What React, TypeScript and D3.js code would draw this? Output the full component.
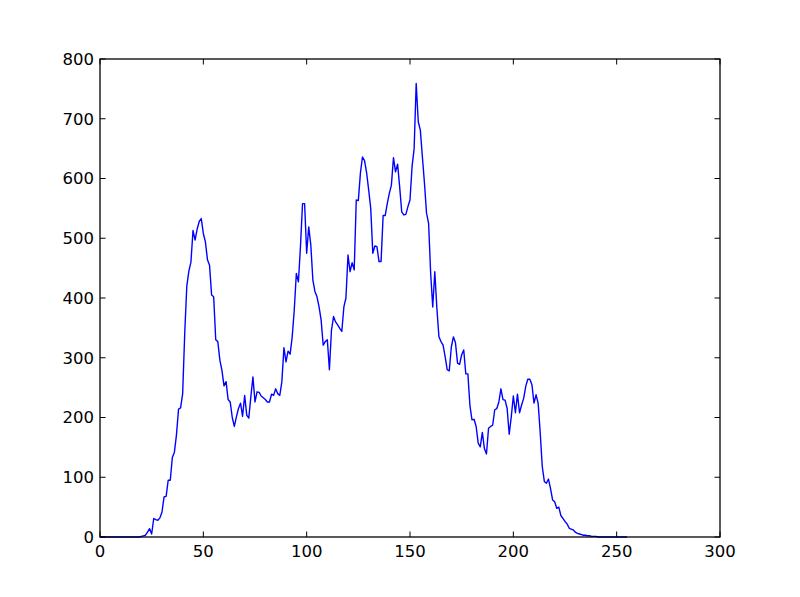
import React from "react";
import * as d3 from "d3";

const counts: number[] = [
  // 0-19
  0, 0, 0, 0, 0, 0, 0, 0, 0, 0, 0, 0, 0, 0, 0, 0, 0, 0, 0, 0,
  // 20-39
  1, 2, 3, 8, 14, 5, 31, 29, 28, 32, 42, 67, 68, 95, 95, 133, 142, 171, 214, 216,
  // 40-59
  240, 341, 420, 445, 460, 513, 497, 515, 528, 533, 508, 494, 464, 455, 405, 402, 330, 327, 296, 279,
  // 60-79
  253, 260, 230, 226, 200, 185, 201, 215, 224, 202, 237, 204, 199, 235, 268, 226, 243, 242, 236, 233,
  // 80-99
  230, 226, 226, 239, 237, 248, 240, 237, 260, 317, 293, 311, 306, 335, 380, 441, 427, 486, 558, 558,
  // 100-119
  475, 519, 489, 430, 411, 402, 385, 363, 321, 327, 330, 280, 346, 369, 360, 355, 349, 344, 385, 400,
  // 120-139
  472, 444, 459, 447, 564, 563, 609, 636, 630, 610, 581, 550, 475, 487, 486, 461, 461, 538, 538, 558,
  // 140-159
  575, 589, 635, 611, 624, 586, 544, 539, 540, 553, 564, 620, 650, 759, 695, 681, 636, 592, 542, 525,
  // 160-179
  441, 385, 444, 383, 335, 327, 321, 302, 280, 278, 318, 335, 325, 291, 289, 305, 313, 273, 273, 220,
  // 180-199
  196, 197, 185, 157, 151, 175, 148, 139, 182, 185, 187, 213, 215, 226, 248, 230, 229, 215, 172, 201,
  // 200-219
  236, 208, 239, 208, 221, 232, 252, 264, 264, 255, 224, 238, 224, 175, 118, 93, 90, 97, 81, 62,
  // 220-239
  59, 48, 50, 36, 31, 26, 22, 15, 13, 12, 8, 6, 5, 4, 3, 3, 2, 2, 1, 1,
  // 240-255
  1, 0, 0, 0, 0, 0, 0, 0, 0, 0, 0, 0, 0, 0, 0, 0,
];

const xTicks: number[] = [0, 50, 100, 150, 200, 250, 300];
const yTicks: number[] = [0, 100, 200, 300, 400, 500, 600, 700, 800];

const W = 800;
const H = 597;
const left = 100;
const right = 720;
const top = 59;
const bottom = 537;
const tickLen = 5.5;
const font = "'DejaVu Sans', sans-serif";
const fontSize = 16.5;

export default function App() {
  const x = d3.scaleLinear().domain([0, 300]).range([left, right]);
  const y = d3.scaleLinear().domain([0, 800]).range([bottom, top]);
  const line = d3
    .line<number>()
    .x((_, i) => x(i))
    .y((d) => y(d));
  const path = line(counts) || "";

  return (
    <svg
      width={W}
      height={H}
      style={{ position: "absolute", left: 0, top: 0, display: "block", background: "#fff" }}
    >
      <rect x={0} y={0} width={W} height={H} fill="#fff" />
      <rect x={left} y={top} width={right - left} height={bottom - top} fill="#fff" />
      <path d={path} fill="none" stroke="#0000ff" strokeWidth={1.39} strokeLinejoin="round" />
      {xTicks.map((t) => (
        <g key={"x" + t}>
          <line x1={x(t)} x2={x(t)} y1={bottom} y2={bottom - tickLen} stroke="#000" strokeWidth={1} />
          <line x1={x(t)} x2={x(t)} y1={top} y2={top + tickLen} stroke="#000" strokeWidth={1} />
          <text
            x={x(t)}
            y={bottom + 20}
            textAnchor="middle"
            fontFamily={font}
            fontSize={fontSize}
            fill="#000"
          >
            {t}
          </text>
        </g>
      ))}
      {yTicks.map((t) => (
        <g key={"y" + t}>
          <line x1={left} x2={left + tickLen} y1={y(t)} y2={y(t)} stroke="#000" strokeWidth={1} />
          <line x1={right} x2={right - tickLen} y1={y(t)} y2={y(t)} stroke="#000" strokeWidth={1} />
          <text
            x={left - 6}
            y={y(t)}
            dy="0.36em"
            textAnchor="end"
            fontFamily={font}
            fontSize={fontSize}
            fill="#000"
          >
            {t}
          </text>
        </g>
      ))}
      <rect
        x={left}
        y={top}
        width={right - left}
        height={bottom - top}
        fill="none"
        stroke="#000"
        strokeWidth={1.3}
      />
    </svg>
  );
}
